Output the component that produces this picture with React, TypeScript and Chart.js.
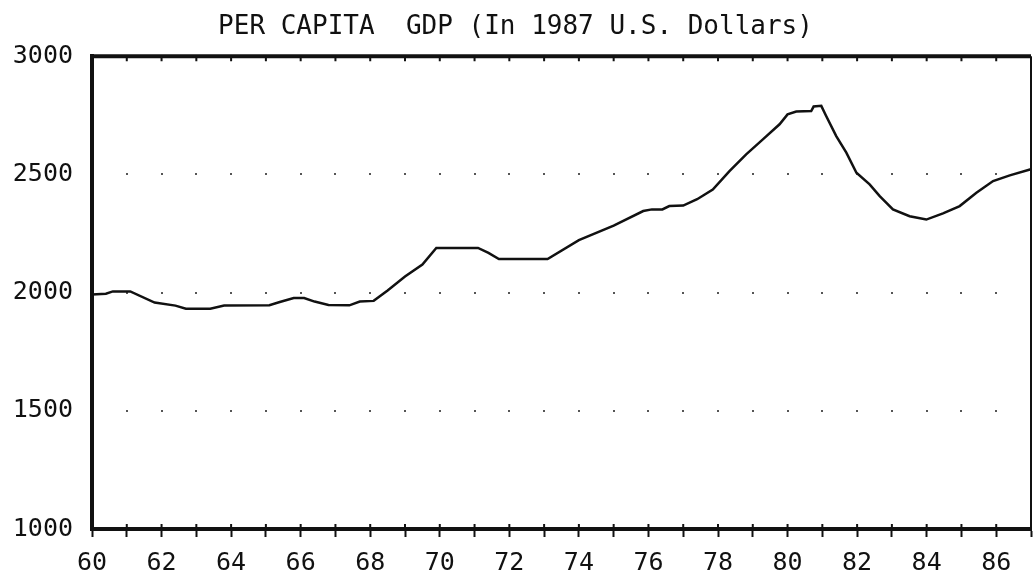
import React, { useEffect, useRef } from "react";
import { Chart, registerables } from "chart.js";

Chart.register(...registerables);

const TITLE = "PER CAPITA  GDP (In 1987 U.S. Dollars)";

const years = [
  60, 60.4, 60.6, 61.1, 61.8, 62.4, 62.7, 63.4, 63.8, 65.1, 65.4, 65.8, 66.1, 66.4,
  66.8, 67.4, 67.7, 68.1, 68.5, 69, 69.5, 69.9, 71.1, 71.4, 71.7, 73.1, 74, 75,
  75.85, 76.1, 76.4, 76.6, 77, 77.4, 77.85, 78.33, 78.81, 79.29, 79.77, 80.0, 80.25,
  80.68, 80.75, 80.97, 81.11, 81.4, 81.69, 81.98, 82.36, 82.65, 83.03, 83.51, 83.99,
  84.47, 84.95, 85.43, 85.91, 86.39, 86.97, 87,
];

const gdp = [
  1992, 1995, 2005, 2005, 1958, 1945, 1932, 1932, 1945, 1947, 1960, 1977, 1977, 1962,
  1948, 1946, 1962, 1965, 2009, 2068, 2119, 2189, 2189, 2168, 2142, 2142, 2222, 2283,
  2345, 2352, 2352, 2366, 2368, 2395, 2436, 2514, 2585, 2648, 2712, 2754, 2766,
  2768, 2787, 2790, 2747, 2662, 2592, 2507, 2458, 2408, 2352, 2323, 2309,
  2335, 2366, 2422, 2472, 2496, 2521, 2522,
];

const yTicks = [1000, 1500, 2000, 2500, 3000];
const dotLevels = [1500, 2000, 2500];
const dotYears = Array.from({ length: 26 }, (_, i) => 61 + i);

const FONT = "'DejaVu Sans Mono', 'Liberation Mono', monospace";

const framePlugin = {
  id: "frame",
  beforeDatasetsDraw(chart: any) {
    const { ctx, scales } = chart;
    const xs = scales.x;
    const ys = scales.y;
    ctx.save();
    ctx.fillStyle = "#555";
    for (const v of dotLevels) {
      const py = ys.getPixelForValue(v);
      for (const yr of dotYears) {
        const px = xs.getPixelForValue(yr);
        ctx.fillRect(Math.round(px) - 1, Math.round(py) - 1, 2, 2);
      }
    }
    ctx.restore();
  },
  afterDraw(chart: any) {
    const { ctx, chartArea, scales } = chart;
    const xs = scales.x;
    ctx.save();
    ctx.strokeStyle = "#111";
    ctx.lineWidth = 4;
    ctx.beginPath();
    ctx.moveTo(chartArea.left - 2, chartArea.top);
    ctx.lineTo(chartArea.right, chartArea.top);
    ctx.stroke();
    ctx.lineWidth = 2;
    ctx.beginPath();
    ctx.moveTo(chartArea.right, chartArea.top);
    ctx.lineTo(chartArea.right, chartArea.bottom);
    ctx.stroke();
    ctx.lineWidth = 2;
    ctx.beginPath();
    for (let yr = 61; yr <= 86; yr++) {
      const px = xs.getPixelForValue(yr);
      ctx.moveTo(px, chartArea.top);
      ctx.lineTo(px, chartArea.top + 5);
      ctx.moveTo(px, chartArea.bottom);
      ctx.lineTo(px, chartArea.bottom - 5);
    }
    ctx.stroke();
    ctx.restore();
  },
};

export default function App() {
  const ref = useRef<HTMLCanvasElement | null>(null);

  useEffect(() => {
    document.body.style.margin = "0";
    const canvas = ref.current;
    if (!canvas) return;
    const chart = new Chart(canvas, {
      type: "line",
      data: {
        datasets: [
          {
            data: years.map((x, i) => ({ x, y: gdp[i] })),
            borderColor: "#111",
            borderWidth: 2.5,
            pointRadius: 0,
            tension: 0,
            fill: false,
          },
        ],
      },
      options: {
        animation: false,
        responsive: false,
        devicePixelRatio: 1,
        layout: { padding: { left: 0, right: 2, top: 0, bottom: 0 } },
        plugins: {
          legend: { display: false },
          tooltip: { enabled: false },
          title: {
            display: true,
            text: TITLE,
            color: "#111",
            font: { family: FONT, size: 26, weight: "normal" },
            padding: { top: 12, bottom: 13 },
          },
        },
        scales: {
          x: {
            type: "linear",
            min: 60,
            max: 87,
            afterFit: (s: any) => {
              s.height = 48;
              s.paddingLeft = 0;
              s.paddingRight = 0;
            },
            ticks: {
              stepSize: 1,
              autoSkip: false,
              maxRotation: 0,
              padding: 11,
              color: "#111",
              font: { family: FONT, size: 25 },
              callback: (v: any) => (Number(v) % 2 === 0 ? String(v) : ""),
            },
            grid: {
              drawOnChartArea: false,
              drawTicks: true,
              tickLength: 8,
              tickColor: "#111",
              tickWidth: 2,
            },
            border: { display: true, color: "#111", width: 4 },
          },
          y: {
            type: "linear",
            min: 1000,
            max: 3000,
            afterFit: (s: any) => {
              s.width = 92;
              s.paddingTop = 0;
              s.paddingBottom = 0;
            },
            afterBuildTicks: (s: any) => {
              s.ticks = yTicks.map((v) => ({ value: v }));
            },
            ticks: {
              padding: 19,
              color: "#111",
              font: { family: FONT, size: 25 },
              callback: (v: any) => String(v),
            },
            grid: { drawOnChartArea: false, drawTicks: false },
            border: { display: true, color: "#111", width: 4 },
          },
        },
      },
      plugins: [framePlugin],
    });
    return () => chart.destroy();
  }, []);

  return <canvas ref={ref} width={1033} height={577} style={{ display: "block" }} />;
}
